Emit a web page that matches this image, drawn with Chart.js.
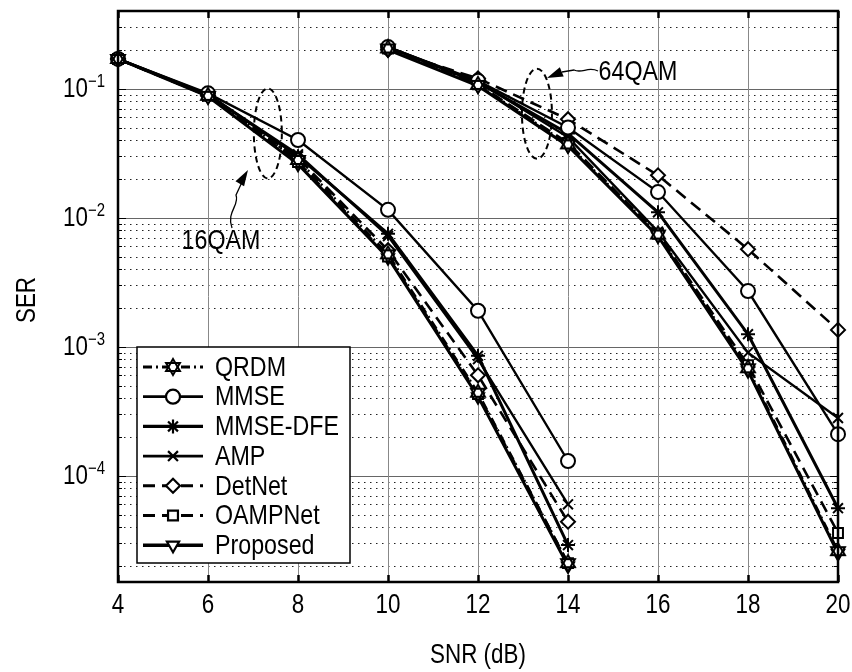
<!DOCTYPE html>
<html>
<head>
<meta charset="utf-8">
<script src="https://cdn.jsdelivr.net/npm/chart.js@4"></script>
<style>
  html, body { margin: 0; padding: 0; background: #fff; }
  canvas { display: block; }
</style>
</head>
<body>
<canvas id="grafico" width="852" height="672"></canvas>
<script>
// eixo x (SNR em dB)
const snr16 = [4, 6, 8, 10, 12, 14];
const snr64 = [10, 12, 14, 16, 18, 20];
const xTicks = [4, 6, 8, 10, 12, 14, 16, 18, 20];
const yTicks = [1e-1, 1e-2, 1e-3, 1e-4];
const yExp = ['\u22121', '\u22122', '\u22123', '\u22124'];

const methods = ['QRDM', 'MMSE', 'MMSE-DFE', 'AMP', 'DetNet', 'OAMPNet', 'Proposed'];

// SER 16QAM
const qrdm16     = [0.17, 0.088, 0.028, 0.0052, 0.00044, 2.1e-5];
const mmse16     = [0.17, 0.092, 0.040, 0.0115, 0.0019, 1.3e-4];
const mmseDfe16  = [0.17, 0.090, 0.030, 0.0075, 0.00085, 2.9e-5];
const amp16      = [0.17, 0.090, 0.031, 0.0072, 0.00080, 6.0e-5];
const detnet16   = [0.17, 0.088, 0.029, 0.0056, 0.00060, 4.4e-5];
const oampnet16  = [0.17, 0.088, 0.027, 0.0050, 0.00043, 2.1e-5];
const proposed16 = [0.17, 0.087, 0.026, 0.0049, 0.00041, 2.0e-5];

// SER 64QAM
const qrdm64     = [0.205, 0.107, 0.037, 0.0074, 0.00068, 2.6e-5];
const mmse64     = [0.210, 0.115, 0.050, 0.0158, 0.0027, 2.1e-4];
const mmseDfe64  = [0.210, 0.112, 0.045, 0.0110, 0.00125, 5.6e-5];
const amp64      = [0.210, 0.113, 0.042, 0.0078, 0.00090, 2.8e-4];
const detnet64   = [0.200, 0.120, 0.058, 0.0213, 0.0057, 0.00135];
const oampnet64  = [0.205, 0.108, 0.038, 0.0075, 0.00072, 3.6e-5];
const proposed64 = [0.200, 0.105, 0.036, 0.0072, 0.00065, 2.5e-5];

const series16 = [qrdm16, mmse16, mmseDfe16, amp16, detnet16, oampnet16, proposed16];
const series64 = [qrdm64, mmse64, mmseDfe64, amp64, detnet64, oampnet64, proposed64];

// estrela de davi (QRDM)
function hexagram(r) {
    const c = document.createElement('canvas');
    const s = Math.ceil(2 * r + 4);
    c.width = s; c.height = s;
    const g = c.getContext('2d');
    const cx = s / 2, cy = s / 2;
    g.lineWidth = 2;
    g.strokeStyle = '#000';
    g.fillStyle = '#fff';
    const tri = off => {
        g.beginPath();
        for (let i = 0; i < 3; i++) {
            const a = off + i * 2 * Math.PI / 3;
            const px = cx + r * Math.cos(a), py = cy + r * Math.sin(a);
            if (i === 0) g.moveTo(px, py); else g.lineTo(px, py);
        }
        g.closePath();
    };
    tri(-Math.PI / 2); g.fill();
    tri(Math.PI / 2); g.fill();
    tri(-Math.PI / 2); g.stroke();
    tri(Math.PI / 2); g.stroke();
    return c;
}

const styles = [
    { dash: [9, 4, 2, 4], point: hexagram(8), rot: 0, width: 2.6 },
    { dash: [], point: 'circle', rot: 0, width: 2.4 },
    { dash: [], point: 'star', rot: 0, width: 3 },
    { dash: [], point: 'crossRot', rot: 0, width: 2.4 },
    { dash: [12, 7], point: 'rectRot', rot: 0, width: 2.6 },
    { dash: [12, 7], point: 'rect', rot: 0, width: 2.6 },
    { dash: [], point: 'triangle', rot: 180, width: 3 }
];

const FONT = "'Liberation Sans', Arial, sans-serif";
const SX = 0.83; // fonte condensada

function texto(ctx, t, x, y, size, align, rot) {
    ctx.save();
    ctx.translate(x, y);
    if (rot) ctx.rotate(rot);
    ctx.scale(SX, 1);
    ctx.font = size + 'px ' + FONT;
    ctx.textAlign = align || 'center';
    ctx.textBaseline = 'middle';
    ctx.fillStyle = '#000';
    ctx.fillText(t, 0, 0);
    ctx.restore();
}

function larg(ctx, t, size) {
    ctx.save();
    ctx.font = size + 'px ' + FONT;
    const w = ctx.measureText(t).width * SX;
    ctx.restore();
    return w;
}

function makeSet(name, i, xs, ys) {
    const st = styles[i];
    return {
        label: name,
        data: xs.map((x, k) => ({ x: x, y: ys[k] })),
        borderColor: '#000',
        backgroundColor: '#fff',
        borderWidth: st.width,
        borderDash: st.dash,
        pointStyle: st.point,
        rotation: st.rot,
        pointRadius: 7,
        pointBorderWidth: 2,
        pointBorderColor: '#000',
        pointBackgroundColor: '#fff',
        tension: 0,
        clip: false
    };
}

const datasets = [];
methods.forEach((m, i) => {
    datasets.push(makeSet(m, i, snr16, series16[i]));
    datasets.push(makeSet(m, i, snr64, series64[i]));
});

function arrowHead(ctx, x0, y0, x1, y1) {
    const ang = Math.atan2(y1 - y0, x1 - x0);
    const L = 16, W = 5;
    ctx.beginPath();
    ctx.moveTo(x1, y1);
    ctx.lineTo(x1 - L * Math.cos(ang) + W * Math.sin(ang), y1 - L * Math.sin(ang) - W * Math.cos(ang));
    ctx.lineTo(x1 - L * Math.cos(ang) - W * Math.sin(ang), y1 - L * Math.sin(ang) + W * Math.cos(ang));
    ctx.closePath();
    ctx.fillStyle = '#000';
    ctx.fill();
}

// grade, eixos, legenda e anotacoes
const gridPlugin = {
    id: 'grade',
    beforeDatasetsDraw(chart) {
        const { ctx, chartArea: a, scales: { x, y } } = chart;
        ctx.save();
        ctx.lineWidth = 1;
        for (let d = -5; d <= -1; d++) {
            for (let m = 1; m <= 9; m++) {
                const v = m * Math.pow(10, d);
                if (v < y.min || v > y.max) continue;
                const py = Math.round(y.getPixelForValue(v)) + 0.5;
                ctx.beginPath();
                if (m === 1) {
                    ctx.setLineDash([]);
                    ctx.strokeStyle = '#666';
                } else {
                    ctx.setLineDash([1.5, 4.5]);
                    ctx.strokeStyle = '#222';
                }
                ctx.moveTo(a.left, py);
                ctx.lineTo(a.right, py);
                ctx.stroke();
                ctx.setLineDash([]);
                ctx.strokeStyle = '#000';
                const len = m === 1 ? 8 : 4;
                ctx.beginPath();
                ctx.moveTo(a.left, py); ctx.lineTo(a.left + len, py);
                ctx.moveTo(a.right, py); ctx.lineTo(a.right - len, py);
                ctx.stroke();
            }
        }
        ctx.setLineDash([]);
        xTicks.forEach(t => {
            const px = Math.round(x.getPixelForValue(t)) + 0.5;
            ctx.strokeStyle = '#888';
            ctx.lineWidth = 1;
            ctx.beginPath();
            ctx.moveTo(px, a.top); ctx.lineTo(px, a.bottom);
            ctx.stroke();
            ctx.strokeStyle = '#000';
            ctx.lineWidth = 2.5;
            ctx.beginPath();
            ctx.moveTo(px, a.top); ctx.lineTo(px, a.top + 7);
            ctx.moveTo(px, a.bottom); ctx.lineTo(px, a.bottom - 7);
            ctx.stroke();
        });
        ctx.restore();
    },
    afterDraw(chart) {
        const { ctx, chartArea: a, scales: { x, y } } = chart;
        ctx.save();
        ctx.strokeStyle = '#000';
        ctx.lineWidth = 2.5;
        ctx.strokeRect(a.left, a.top, a.right - a.left, a.bottom - a.top);

        // rotulos dos eixos
        xTicks.forEach(t => texto(ctx, String(t), x.getPixelForValue(t), 606, 27, 'center'));
        yTicks.forEach((v, i) => {
            const py = y.getPixelForValue(v);
            const ew = larg(ctx, yExp[i], 18);
            const right = 105;
            texto(ctx, yExp[i], right - ew, py - 7, 18, 'left');
            texto(ctx, '10', right - ew, py + 1, 27, 'right');
        });
        texto(ctx, 'SNR (dB)', (a.left + a.right) / 2, 656, 27, 'center');
        texto(ctx, 'SER', 28, 300, 27, 'center', -Math.PI / 2);

        // anotacoes 16QAM / 64QAM
        ctx.strokeStyle = '#000';
        ctx.lineWidth = 2;
        ctx.setLineDash([6, 4]);
        ctx.beginPath();
        ctx.ellipse(x.getPixelForValue(7.33), y.getPixelForValue(0.045), 14, 45, 0, 0, 2 * Math.PI);
        ctx.stroke();
        ctx.beginPath();
        ctx.ellipse(x.getPixelForValue(13.31), y.getPixelForValue(0.064), 15, 45, 0, 0, 2 * Math.PI);
        ctx.stroke();
        ctx.setLineDash([]);
        ctx.lineWidth = 1.3;
        ctx.beginPath();
        ctx.moveTo(232, 228);
        ctx.bezierCurveTo(226, 212, 240, 205, 236, 195);
        ctx.lineTo(243, 180);
        ctx.stroke();
        arrowHead(ctx, 236, 190, 248, 170);
        ctx.beginPath();
        ctx.moveTo(598, 71);
        ctx.bezierCurveTo(588, 66, 582, 74, 574, 70);
        ctx.lineTo(562, 72);
        ctx.stroke();
        arrowHead(ctx, 566, 70, 547, 78);
        texto(ctx, '16QAM', 221, 241, 28, 'center');
        texto(ctx, '64QAM', 638, 72, 28, 'center');

        // legenda
        const lx = 137, ly = 347, lw = 213, lh = 216;
        ctx.fillStyle = '#fff';
        ctx.fillRect(lx, ly, lw, lh);
        ctx.lineWidth = 1.5;
        ctx.strokeStyle = '#000';
        ctx.strokeRect(lx, ly, lw, lh);
        methods.forEach((m, i) => {
            const st = styles[i];
            const ry = 367 + i * 29.7;
            ctx.strokeStyle = '#000';
            ctx.setLineDash(st.dash);
            ctx.lineWidth = st.width + 0.4;
            ctx.beginPath();
            ctx.moveTo(143, ry); ctx.lineTo(203, ry);
            ctx.stroke();
            ctx.setLineDash([]);
            ctx.lineWidth = 2.2;
            ctx.fillStyle = '#fff';
            Chart.helpers.drawPoint(ctx, { pointStyle: st.point, rotation: st.rot, radius: 7, borderWidth: 2.2 }, 173, ry);
            texto(ctx, m, 215, ry + 1, 28, 'left');
        });
        ctx.restore();
    }
};

const ctx = document.getElementById('grafico');
new Chart(ctx, {
    type: 'line',
    data: { datasets: datasets },
    options: {
        responsive: false,
        animation: false,
        devicePixelRatio: 1,
        layout: { padding: { top: 11, right: 14, left: 0, bottom: 0 } },
        plugins: {
            legend: { display: false },
            tooltip: { enabled: false }
        },
        scales: {
            x: {
                type: 'linear',
                min: 4,
                max: 20,
                afterFit: s => { s.height = 90; },
                grid: { display: false, drawTicks: false },
                border: { display: false },
                ticks: { display: false, stepSize: 2 }
            },
            y: {
                type: 'logarithmic',
                min: 1.5e-5,
                max: 0.4,
                afterFit: s => { s.width = 118; },
                grid: { display: false, drawTicks: false },
                border: { display: false },
                ticks: { display: false }
            }
        }
    },
    plugins: [gridPlugin]
});
</script>
</body>
</html>
